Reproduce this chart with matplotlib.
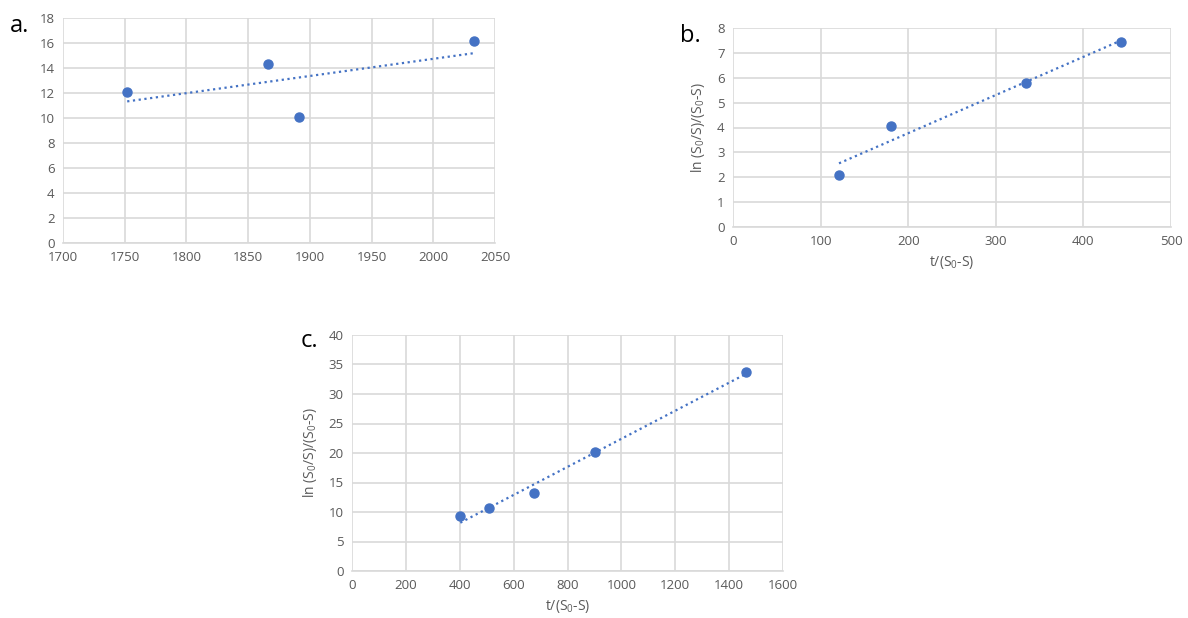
import numpy as np
import matplotlib
matplotlib.use("Agg")
import matplotlib.pyplot as plt

plt.rcParams["font.family"] = ["Open Sans", "DejaVu Sans"]
plt.rcParams["mathtext.default"] = "regular"

# Panel data
a_x = [1752, 1866, 1891, 2033]
a_y = [12.05, 14.35, 10.1, 16.15]

b_x = [121, 180, 334, 443]
b_y = [2.1, 4.05, 5.77, 7.43]

c_x = [402, 508, 677, 903, 1462]
c_y = [9.4, 10.6, 13.2, 20.1, 33.8]

BLUE = "#4472C4"
GRID = "#d9d9d9"
TICK = "#595959"
W, H = 1188, 618


def px_axes(fig, left, top, right, bottom):
    return fig.add_axes([left / W, 1 - bottom / H, (right - left) / W, (bottom - top) / H])


def style(ax, xlim, xstep, ylim, ystep):
    ax.set_xlim(*xlim)
    ax.set_ylim(*ylim)
    ax.set_xticks(np.arange(xlim[0], xlim[1] + xstep / 2, xstep))
    ax.set_yticks(np.arange(ylim[0], ylim[1] + ystep / 2, ystep))
    ax.grid(True, color=GRID, linewidth=1.2)
    ax.set_axisbelow(True)
    for s in ax.spines.values():
        s.set_visible(False)
    ax.spines["bottom"].set_visible(True)
    ax.spines["bottom"].set_color(GRID)
    ax.spines["bottom"].set_linewidth(1.2)
    ax.tick_params(length=0, labelsize=9.5, colors=TICK, pad=6)


def draw(ax, x, y):
    k, b = np.polyfit(x, y, 1)
    xs = np.array([min(x), max(x)])
    ax.plot(xs, k * xs + b, linestyle=(0, (1, 1.6)), color=BLUE, linewidth=1.6, zorder=2)
    ax.plot(x, y, "o", color=BLUE, markersize=6.5, zorder=3)


fig = plt.figure(figsize=(W / 100, H / 100), dpi=100)

ax_a = px_axes(fig, 63, 18, 495, 243)
style(ax_a, (1700, 2050), 50, (0, 18), 2)
draw(ax_a, a_x, a_y)

ax_b = px_axes(fig, 733, 28, 1171, 227)
style(ax_b, (0, 500), 100, (0, 8), 1)
draw(ax_b, b_x, b_y)
ax_b.set_xlabel("t/(S$_0$-S)", fontsize=10, color=TICK, labelpad=4)
ax_b.set_ylabel("ln (S$_0$/S)/(S$_0$-S)", fontsize=10, color=TICK, labelpad=7)

ax_c = px_axes(fig, 352, 335, 783, 571)
style(ax_c, (0, 1600), 200, (0, 40), 5)
draw(ax_c, c_x, c_y)
ax_c.set_xlabel("t/(S$_0$-S)", fontsize=10, color=TICK, labelpad=4)
ax_c.set_ylabel("ln (S$_0$/S)/(S$_0$-S)", fontsize=10, color=TICK, labelpad=7)

fig.text(10 / W, 1 - 26 / H, "a.", fontsize=17, va="center", ha="left")
fig.text(680 / W, 1 - 36 / H, "b.", fontsize=17, va="center", ha="left")
fig.text(301 / W, 1 - 341 / H, "c.", fontsize=17, va="center", ha="left")

fig.savefig("out.png", dpi=100)
